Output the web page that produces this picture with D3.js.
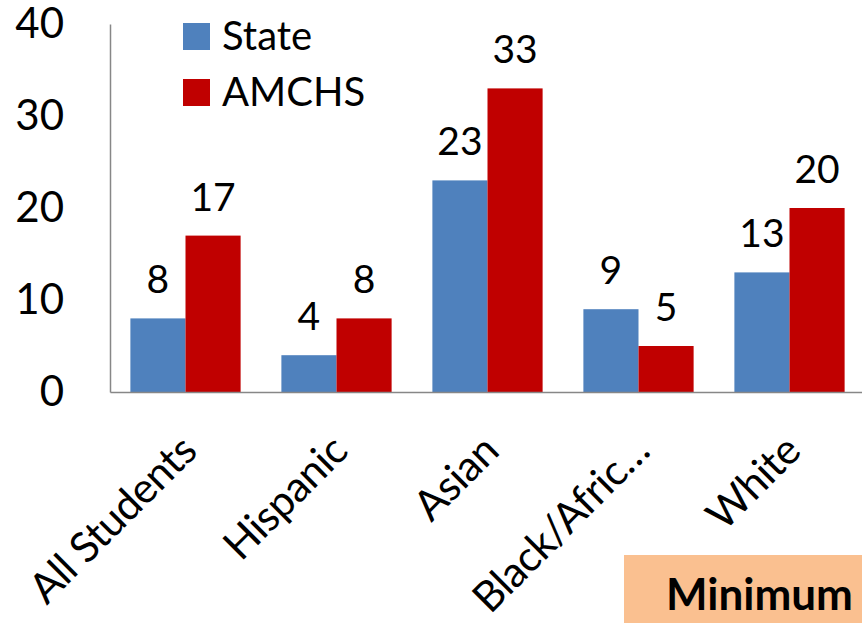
<!DOCTYPE html>
<html>
<head>
<meta charset="utf-8">
<script src="https://cdn.jsdelivr.net/npm/d3@7"></script>
<style>
  html, body { margin: 0; padding: 0; background: #fff; }
  svg { display: block; font-family: Lato, "Open Sans", sans-serif; }
</style>
</head>
<body>
<svg id="chart" width="862" height="623"></svg>
<script>
const categories = ["All Students", "Hispanic", "Asian", "Black/Afric…", "White"];
const seriesNames = ["State", "AMCHS"];
const stateValues = [8, 4, 23, 9, 13];
const amchsValues = [17, 8, 33, 5, 20];
const yTicks = [0, 10, 20, 30, 40];
const colors = ["#4F81BD", "#C00000"];
const footerLabel = "Minimum";

const svg = d3.select("#chart");
const mLeft = 110, mRight = 865, mTop = 24, mBottom = 392;

const x0 = d3.scaleBand().domain(categories).range([mLeft, mRight]).paddingInner(0.27).paddingOuter(0.135);
const x1 = d3.scaleBand().domain(seriesNames).range([0, x0.bandwidth()]);
const y = d3.scaleLinear().domain([0, 40]).range([mBottom, mTop]);

const data = categories.map((c, i) => ({ cat: c, values: [stateValues[i], amchsValues[i]] }));

// bars
const g = svg.append("g");
const groups = g.selectAll("g.grp").data(data).join("g")
  .attr("transform", d => `translate(${x0(d.cat)},0)`);
groups.selectAll("rect").data(d => d.values.map((v, j) => ({ v, s: seriesNames[j], j })))
  .join("rect")
  .attr("x", d => x1(d.s))
  .attr("y", d => y(d.v))
  .attr("width", x1.bandwidth())
  .attr("height", d => y(0) - y(d.v))
  .attr("fill", d => colors[d.j]);
groups.selectAll("text").data(d => d.values.map((v, j) => ({ v, s: seriesNames[j], j })))
  .join("text")
  .attr("x", d => x1(d.s) + x1.bandwidth() / 2)
  .attr("y", d => y(d.v) - 25)
  .attr("text-anchor", "middle")
  .attr("font-size", 39)
  .attr("fill", "#000")
  .text(d => d.v);

// axes
const yAxis = d3.axisLeft(y).tickValues(yTicks).tickSize(0).tickPadding(46);
const ya = svg.append("g").attr("transform", `translate(${mLeft},0)`).call(yAxis);
ya.select(".domain").attr("stroke", "#878787").attr("stroke-width", 1.5);
ya.selectAll("text").attr("font-size", 42).attr("font-family", "Lato").attr("fill", "#000");

const xAxis = d3.axisBottom(x0).tickSize(0).tickFormat("");
const xa = svg.append("g").attr("transform", `translate(0,${mBottom})`).call(xAxis);
xa.select(".domain").attr("stroke", "#878787").attr("stroke-width", 1.5);

// category labels rotated
svg.append("g").selectAll("text").data(categories).join("text")
  .attr("transform", d => `translate(${x0(d) + x0.bandwidth() / 2 + 3},${mBottom + 51}) rotate(-45)`)
  .attr("text-anchor", "end")
  .attr("dy", "0.35em")
  .attr("font-size", 42)
  .attr("letter-spacing", -0.5)
  .attr("fill", "#000")
  .text(d => d);

// legend
const legend = svg.append("g");
seriesNames.forEach((s, i) => {
  legend.append("rect").attr("x", 183).attr("y", 23 + i * 56).attr("width", 27).attr("height", 27).attr("fill", colors[i]);
  legend.append("text").attr("x", 222).attr("y", 50 + i * 56).attr("font-size", 40).attr("fill", "#000").text(s);
});

// footer box
svg.append("rect").attr("x", 624).attr("y", 555).attr("width", 238).attr("height", 68).attr("fill", "#FAC090");
svg.append("text").attr("x", 666).attr("y", 610).attr("font-size", 44).attr("font-weight", "bold").attr("fill", "#000").text(footerLabel);
</script>
</body>
</html>
